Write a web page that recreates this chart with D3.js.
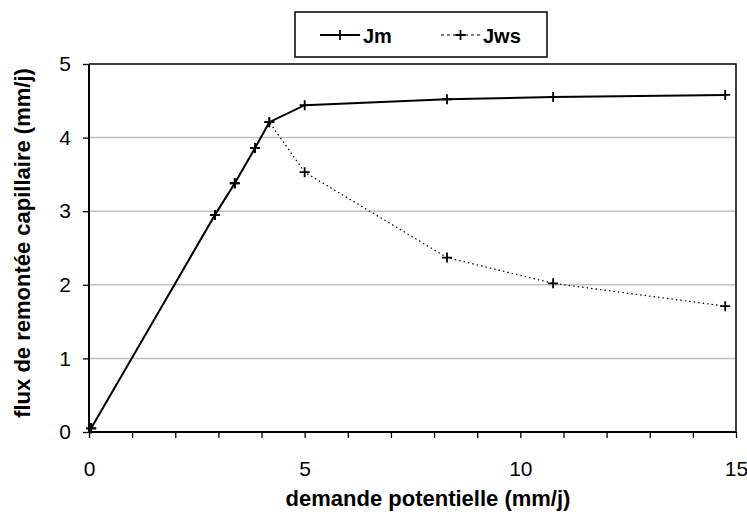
<!DOCTYPE html>
<html>
<head>
<meta charset="utf-8">
<script src="https://cdn.jsdelivr.net/npm/d3@7"></script>
<style>
  body { margin: 0; background: #fff; }
  svg { display: block; }
</style>
</head>
<body>
<div id="chart"></div>
<script>
// données
const demande = [0.05, 2.92, 3.38, 3.85, 4.18, 5.0, 8.3, 10.76, 14.75];
const jm  = [0.05, 2.95, 3.38, 3.86, 4.21, 4.44, 4.52, 4.55, 4.58];
const jws = [0.05, 2.95, 3.38, 3.86, 4.21, 3.53, 2.37, 2.02, 1.71];
const xTicks = [0, 5, 10, 15];
const yTicks = [0, 1, 2, 3, 4, 5];
const seriesNames = ["Jm", "Jws"];

const width = 747, height = 514;
const margin = { top: 64, right: 11, bottom: 82, left: 89 };
const W = width - margin.left - margin.right;
const H = height - margin.top - margin.bottom;
const font = "'Liberation Sans', Arial, sans-serif";

const svg = d3.select("#chart").append("svg")
  .attr("width", width).attr("height", height);

const g = svg.append("g").attr("transform", `translate(${margin.left},${margin.top})`);

const x = d3.scaleLinear().domain([0, 15]).range([0, W]);
const y = d3.scaleLinear().domain([0, 5]).range([H, 0]);

// grille horizontale
g.selectAll(".grid")
  .data([1, 2, 3, 4])
  .enter().append("line")
  .attr("x1", 0).attr("x2", W)
  .attr("y1", d => y(d)).attr("y2", d => y(d))
  .attr("stroke", "#c0c0c0")
  .attr("stroke-width", 1.5);

// cadre haut et droit
g.append("path")
  .attr("d", `M0,0H${W}V${H}`)
  .attr("fill", "none")
  .attr("stroke", "#000")
  .attr("stroke-width", 1.5);

// Axe X
g.append("g")
  .attr("transform", `translate(0,${H})`)
  .call(d3.axisBottom(x).tickValues(d3.range(0, 16)).tickSize(6).tickFormat(d => xTicks.includes(d) ? d : ""))
  .call(ax => ax.select(".domain").attr("stroke-width", 2).attr("d", `M0,0H${W}`))
  .call(ax => ax.selectAll("line").attr("stroke-width", 1.3))
  .selectAll("text")
  .attr("font-size", "21px")
  .attr("font-family", font)
  .attr("fill", "#000")
  .attr("y", 44)
  .attr("dy", null);

// Axe Y
g.append("g")
  .call(d3.axisLeft(y).tickValues(yTicks).tickSize(6).tickPadding(12).tickFormat(d3.format("d")))
  .call(ax => ax.select(".domain").attr("stroke-width", 2).attr("d", `M0,${H}V0`))
  .call(ax => ax.selectAll("line").attr("stroke-width", 1.3))
  .selectAll("text")
  .attr("font-size", "21px")
  .attr("font-family", font)
  .attr("fill", "#000");

// Titres des axes
svg.append("text")
  .attr("x", 428)
  .attr("y", 506)
  .attr("text-anchor", "middle")
  .attr("font-size", "22px")
  .attr("font-weight", "700")
  .attr("font-family", font)
  .text("demande potentielle (mm/j)");

svg.append("text")
  .attr("transform", `translate(30,243) rotate(-90)`)
  .attr("text-anchor", "middle")
  .attr("font-size", "22px")
  .attr("font-weight", "700")
  .attr("font-family", font)
  .text("flux de remontée capillaire (mm/j)");

// Courbes
const line = d3.line().x(d => x(d[0])).y(d => y(d[1]));
const dataJm = demande.map((d, i) => [d, jm[i]]);
const dataJws = demande.map((d, i) => [d, jws[i]]);

g.append("path")
  .datum(dataJws)
  .attr("d", line)
  .attr("fill", "none")
  .attr("stroke", "#000")
  .attr("stroke-width", 1.2)
  .attr("stroke-dasharray", "1.5,3");

g.append("path")
  .datum(dataJm)
  .attr("d", line)
  .attr("fill", "none")
  .attr("stroke", "#000")
  .attr("stroke-width", 2);

function crosses(data) {
  g.selectAll(null)
    .data(data)
    .enter().append("path")
    .attr("d", d => `M${x(d[0]) - 5},${y(d[1])}h10M${x(d[0])},${y(d[1]) - 5}v10`)
    .attr("stroke", "#000")
    .attr("stroke-width", 1.8);
}
crosses(dataJm);
crosses(dataJws);

// Légende
const leg = svg.append("g");
leg.append("rect")
  .attr("x", 295).attr("y", 12)
  .attr("width", 252).attr("height", 45)
  .attr("fill", "#fff")
  .attr("stroke", "#000")
  .attr("stroke-width", 1.5);

const legItems = [
  { name: seriesNames[0], x0: 320, x1: 360, dash: null, w: 2 },
  { name: seriesNames[1], x0: 441, x1: 480, dash: "3,3", w: 1.2 }
];
legItems.forEach(it => {
  leg.append("line")
    .attr("x1", it.x0).attr("x2", it.x1)
    .attr("y1", 35).attr("y2", 35)
    .attr("stroke", "#000")
    .attr("stroke-width", it.w)
    .attr("stroke-dasharray", it.dash);
  const cx = (it.x0 + it.x1) / 2;
  leg.append("path")
    .attr("d", `M${cx - 5},35h10M${cx},30v10`)
    .attr("stroke", "#000")
    .attr("stroke-width", 1.8);
  leg.append("text")
    .attr("x", it.x1 + 3)
    .attr("y", 43)
    .attr("font-size", "20px")
    .attr("font-weight", "700")
    .attr("font-family", font)
    .text(it.name);
});
</script>
</body>
</html>
